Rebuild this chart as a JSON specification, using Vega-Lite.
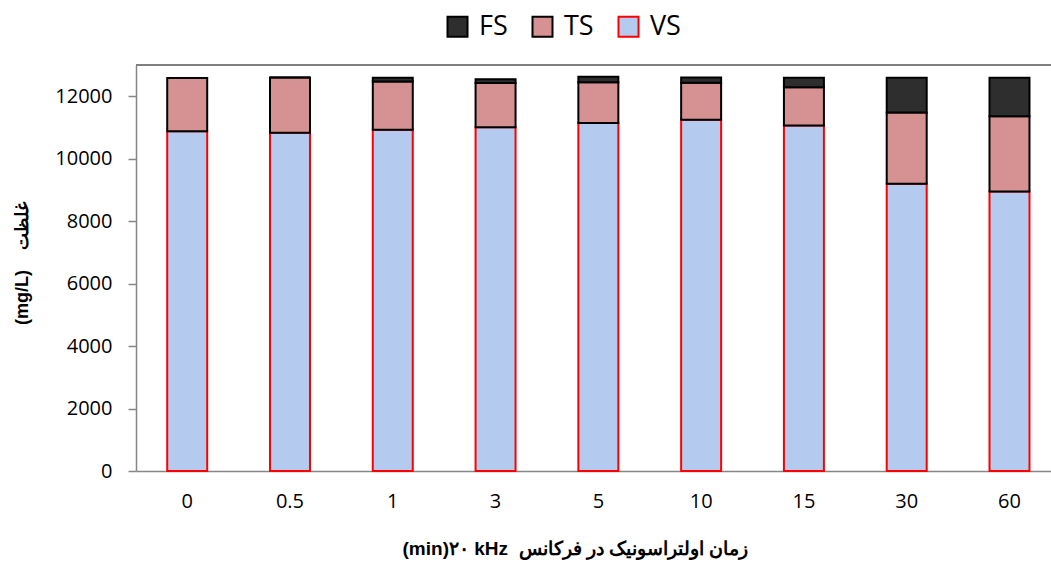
{
  "$schema": "https://vega.github.io/schema/vega-lite/v6.json",
  "width": 915,
  "height": 406,
  "autosize": {"type": "none"},
  "padding": {"left": 136, "top": 65, "right": 0, "bottom": 92},
  "background": "white",
  "config": {"view": {"stroke": null}, "font": "Open Sans"},
  "data": {
    "values": [
      {"time": "0", "series": "VS", "value": 10880},
      {"time": "0", "series": "TS", "value": 1700},
      {"time": "0", "series": "FS", "value": 0},
      {"time": "0.5", "series": "VS", "value": 10830},
      {"time": "0.5", "series": "TS", "value": 1770},
      {"time": "0.5", "series": "FS", "value": 0},
      {"time": "1", "series": "VS", "value": 10930},
      {"time": "1", "series": "TS", "value": 1540},
      {"time": "1", "series": "FS", "value": 120},
      {"time": "3", "series": "VS", "value": 11010},
      {"time": "3", "series": "TS", "value": 1410},
      {"time": "3", "series": "FS", "value": 120},
      {"time": "5", "series": "VS", "value": 11140},
      {"time": "5", "series": "TS", "value": 1310},
      {"time": "5", "series": "FS", "value": 170},
      {"time": "10", "series": "VS", "value": 11250},
      {"time": "10", "series": "TS", "value": 1180},
      {"time": "10", "series": "FS", "value": 170},
      {"time": "15", "series": "VS", "value": 11060},
      {"time": "15", "series": "TS", "value": 1230},
      {"time": "15", "series": "FS", "value": 300},
      {"time": "30", "series": "VS", "value": 9200},
      {"time": "30", "series": "TS", "value": 2280},
      {"time": "30", "series": "FS", "value": 1110},
      {"time": "60", "series": "VS", "value": 8950},
      {"time": "60", "series": "TS", "value": 2410},
      {"time": "60", "series": "FS", "value": 1230}
    ]
  },
  "layer": [
    {
      "mark": {"type": "bar", "strokeWidth": 2},
      "encoding": {
        "x": {
          "field": "time",
          "type": "nominal",
          "sort": ["0", "0.5", "1", "3", "5", "10", "15", "30", "60"],
          "scale": {"paddingInner": 0.611, "paddingOuter": 0.2565, "align": 0.592},
          "axis": {
            "title": "(min)۲۰ kHz\u00a0 زمان اولتراسونیک در فرکانس",
            "titleFont": "Liberation Sans",
            "titleFontWeight": "bold",
            "titleFontSize": 19,
            "titleColor": "#000000",
            "titleX": 439,
            "titleY": 77,
            "titleAlign": "center",
            "titleBaseline": "middle",
            "labelAngle": 0,
            "ticks": false,
            "tickSize": 0,
            "labelPadding": 20,
            "labelFontSize": 20,
            "labelFont": "Open Sans",
            "labelColor": "#000000",
            "domainColor": "#868686",
            "domainWidth": 1.5
          }
        },
        "y": {
          "field": "value",
          "type": "quantitative",
          "stack": "zero",
          "scale": {"domain": [0, 13000], "nice": false},
          "axis": {
            "title": "(mg/L)\u00a0\u00a0\u00a0 غلظت",
            "titleFont": "Liberation Sans",
            "titleFontWeight": "bold",
            "titleFontSize": 18,
            "titleColor": "#000000",
            "titleAngle": -90,
            "titleX": -114,
            "titleY": 198,
            "titleAlign": "center",
            "titleBaseline": "middle",
            "values": [0, 2000, 4000, 6000, 8000, 10000, 12000],
            "format": "d",
            "grid": false,
            "domainColor": "#868686",
            "domainWidth": 1.5,
            "tickColor": "#868686",
            "tickWidth": 1.5,
            "tickSize": 8,
            "labelPadding": 16,
            "labelFontSize": 20,
            "labelFont": "Open Sans",
            "labelColor": "#000000"
          }
        },
        "fill": {
          "field": "series",
          "type": "nominal",
          "scale": {"domain": ["FS", "TS", "VS"], "range": ["#2e2e2e", "#d69293", "#b4cbef"]},
          "legend": {
            "title": null,
            "orient": "none",
            "legendX": 308,
            "legendY": -52,
            "direction": "horizontal",
            "symbolType": "square",
            "symbolSize": 400,
            "symbolStrokeWidth": 2,
            "symbolOpacity": 1,
            "labelFontSize": 27,
            "labelFont": "Open Sans",
            "labelColor": "#000000",
            "labelOffset": 8,
            "columnPadding": 20
          }
        },
        "stroke": {
          "field": "series",
          "type": "nominal",
          "scale": {"domain": ["FS", "TS", "VS"], "range": ["#000000", "#000000", "#ff0000"]},
          "legend": {
            "title": null,
            "orient": "none",
            "legendX": 308,
            "legendY": -52,
            "direction": "horizontal",
            "symbolType": "square",
            "symbolSize": 400,
            "symbolStrokeWidth": 2,
            "symbolOpacity": 1,
            "labelFontSize": 27,
            "labelFont": "Open Sans",
            "labelColor": "#000000",
            "labelOffset": 8,
            "columnPadding": 20
          }
        },
        "order": {"field": "series", "sort": "descending"}
      }
    },
    {
      "mark": {"type": "rule", "color": "#7f7f7f", "strokeWidth": 1.5},
      "encoding": {"y": {"datum": 13000}}
    }
  ]
}
